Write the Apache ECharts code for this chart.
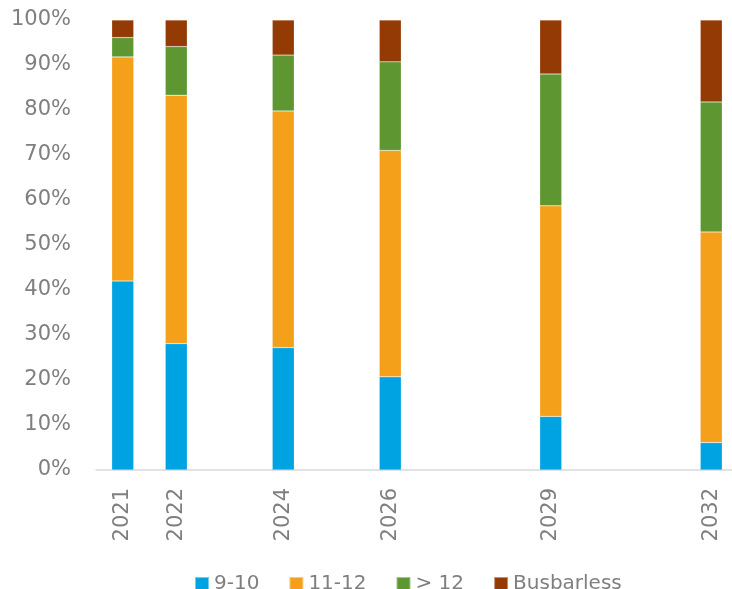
<!DOCTYPE html>
<html>
<head>
<meta charset="utf-8">
<title>Share by category</title>
<script src="https://cdn.jsdelivr.net/npm/echarts@6/dist/echarts.min.js"></script>
<style>
  html, body { margin: 0; padding: 0; background: #ffffff; }
  #chart { width: 732px; height: 589px; }
</style>
</head>
<body>
<div id="chart"></div>
<script>
// Every year slot of the time line (one slot per year keeps the spacing proportional)
const axisYears = ['2021', '2022', '2023', '2024', '2025', '2026', '2027', '2028', '2029', '2030', '2031', '2032'];

// Years that have data
const years = ['2021', '2022', '2024', '2026', '2029', '2032'];

// Share of each category per year, in percent
const share_9_10 = [42.0, 28.1, 27.2, 20.7, 11.9, 6.1];
const share_11_12 = [49.8, 55.2, 52.6, 50.3, 46.8, 46.8];
const share_over_12 = [4.3, 10.8, 12.4, 19.7, 29.3, 28.9];
const share_busbarless = [3.9, 5.9, 7.8, 9.3, 12.0, 18.2];

const seriesNames = ['9-10', '11-12', '> 12', 'Busbarless'];
const seriesValues = [share_9_10, share_11_12, share_over_12, share_busbarless];
const seriesColors = ['#00A3E2', '#F5A01A', '#5E9732', '#933A05'];

const yTicks = [0, 10, 20, 30, 40, 50, 60, 70, 80, 90, 100];

const FONT = 'DejaVu Sans';
const TEXT_COLOR = '#7f7f7f';

// Spread a series over the year slots, leaving empty years blank
function toSlots(values) {
  return axisYears.map(y => {
    const k = years.indexOf(y);
    return k >= 0 ? values[k] : null;
  });
}

const chart = echarts.init(document.getElementById('chart'));

chart.setOption({
  animation: false,
  backgroundColor: '#ffffff',
  textStyle: { fontFamily: FONT },
  grid: {
    left: 96,
    top: 20,
    width: 642,
    bottom: 119,
    containLabel: false,
    outerBoundsMode: 'none'
  },
  legend: {
    data: seriesNames,
    left: 189,
    top: 569,
    itemWidth: 14,
    itemHeight: 14,
    itemGap: 29,
    icon: 'rect',
    textStyle: { fontFamily: FONT, fontSize: 20, color: TEXT_COLOR }
  },
  xAxis: {
    type: 'category',
    data: axisYears,
    boundaryGap: true,
    splitLine: { show: false },
    axisTick: { show: false },
    axisLine: { show: true, lineStyle: { color: '#d9d9d9', width: 1.5 } },
    axisLabel: {
      interval: (idx, value) => years.indexOf(value) >= 0,
      rotate: 90,
      margin: 18,
      fontFamily: FONT,
      fontSize: 21,
      color: TEXT_COLOR
    }
  },
  yAxis: {
    type: 'value',
    min: yTicks[0],
    max: yTicks[yTicks.length - 1],
    interval: 10,
    splitLine: { show: false },
    axisLine: { show: false },
    axisTick: { show: false },
    axisLabel: {
      margin: 25,
      fontFamily: FONT,
      fontSize: 21,
      color: TEXT_COLOR,
      formatter: '{value}%'
    }
  },
  series: seriesNames.map((name, i) => ({
    name: name,
    type: 'bar',
    stack: 'total',
    barWidth: 22,
    itemStyle: {
      color: seriesColors[i],
      borderColor: 'rgba(255,255,255,0.45)',
      borderWidth: 0.5
    },
    data: toSlots(seriesValues[i])
  }))
});
</script>
</body>
</html>
